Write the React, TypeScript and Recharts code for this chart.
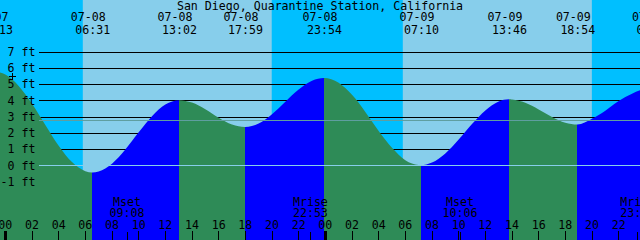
import React from 'react';
import {
  ComposedChart,
  Area,
  XAxis,
  YAxis,
  ReferenceArea,
  ReferenceLine,
  ReferenceDot,
} from 'recharts';

// ---------- data ----------
const title = 'San Diego, Quarantine Station, California';

// tide extremes (hours after 07-08 00:00)
const extremeHours = [-0.78, 6.52, 13.03, 17.98, 23.9, 31.17, 37.77, 42.9, 48.6];
const extremeHeights = [5.8, -0.4, 4.05, 2.4, 5.42, 0.05, 4.1, 2.55, 4.8];
const extremeDates = ['07-07', '07-08', '07-08', '07-08', '07-08', '07-09', '07-09', '07-09', '07-10'];
const extremeTimes = ['23:13', '06:31', '13:02', '17:59', '23:54', '07:10', '13:46', '18:54', '00:36'];

// hourly readings of the curve
const sampleHours = [
  0, 1, 2, 3, 4, 5, 6, 7, 8, 9, 10, 11, 12, 14, 15, 16, 17, 19, 20, 21, 22, 23,
  25, 26, 27, 28, 29, 30, 31, 32, 33, 34, 35, 36, 37, 38, 39, 40, 41, 42, 44, 45, 46, 47, 48,
];
const sampleHeights = [
  5.63, 4.93, 3.83, 2.53, 1.25, 0.24, -0.32, -0.34, 0.14, 1.01, 2.07, 3.06, 3.78, 3.9, 3.49, 2.97, 2.55,
  2.62, 3.19, 3.96, 4.71, 5.25, 5.12, 4.38, 3.33, 2.16, 1.12, 0.36, 0.06, 0.21, 0.77, 1.63, 2.58, 3.42,
  3.97, 4.09, 3.89, 3.48, 3.02, 2.66, 2.9, 3.4, 4.0, 4.45, 4.75,
];

const sunriseHours = [5.81, 29.81];
const sunsetHours = [19.98, 43.99];

const moonHours = [9.13, 22.88, 34.1, 47.43];
const moonEvents = ['Mset', 'Mrise', 'Mset', 'Mrise'];
const moonTimes = ['09:08', '22:53', '10:06', '23:26'];

const hourTicks = [0, 2, 4, 6, 8, 10, 12, 14, 16, 18, 20, 22, 24, 26, 28, 30, 32, 34, 36, 38, 40, 42, 44, 46];
const ftTicks = [-1, 0, 1, 2, 3, 4, 5, 6, 7];
const gridLevels = [1, 2, 3, 4, 5, 6, 7];
const meanLevel = 2.79;
const datumLevel = 0;
const nowHour = 0.54;
const nowHeight = 5.51;

const xDomain: [number, number] = [-0.4, 47.6];
const yDomain: [number, number] = [-4.554, 10.215];

// ---------- styles ----------
const W = 640;
const H = 240;
const NIGHT = '#00BFFF';
const DAY = '#87CEEB';
const RISE = '#0000FF';
const FALL = '#2E8B57';
const MEAN_COLOR = '#5F9EA0';
const DATUM_COLOR = '#87CEEB';
const FONT = '"DejaVu Sans Mono", "Liberation Mono", monospace';
const FS = 11.6;
const LINE_START = 39;

const data = [
  ...extremeHours.map((h, i) => ({ hour: h, height: extremeHeights[i] })),
  ...sampleHours.map((h, i) => ({ hour: h, height: sampleHeights[i] })),
].sort((a, b) => a.hour - b.hour);

const firstHour = data[0].hour;
const lastHour = data[data.length - 1].hour;
const stops: { offset: number; color: string }[] = [];
for (let k = 0; k < extremeHours.length - 1; k++) {
  const color = extremeHeights[k + 1] > extremeHeights[k] ? RISE : FALL;
  stops.push({ offset: (extremeHours[k] - firstHour) / (lastHour - firstHour), color });
  stops.push({ offset: (extremeHours[k + 1] - firstHour) / (lastHour - firstHour), color });
}

const pad2 = (n: number) => String(n).padStart(2, '0');

const HourTick = (props: any) => {
  const { x, payload } = props;
  const hr = payload.value as number;
  const midnight = hr % 24 === 0;
  return (
    <g>
      <text x={x} y={229} textAnchor="middle" fontFamily={FONT} fontSize={FS} fill="#000">
        {pad2(hr % 24)}
      </text>
      <line x1={x} x2={x} y1={231} y2={240} stroke="#000" strokeWidth={midnight ? 3 : 1} shapeRendering="crispEdges" />
    </g>
  );
};

const TideTick = (props: any) => {
  const { x, payload } = props;
  const i = extremeHours.indexOf(payload.value);
  if (i < 0) return <g />;
  return (
    <g>
      <text x={x - 4} y={20.7} textAnchor="middle" fontFamily={FONT} fontSize={FS} fill="#000">
        {extremeDates[i]}
      </text>
      <text x={x + 0.5} y={34} textAnchor="middle" fontFamily={FONT} fontSize={FS} fill="#000">
        {extremeTimes[i]}
      </text>
    </g>
  );
};

const MoonTick = (props: any) => {
  const { x, payload } = props;
  const i = moonHours.indexOf(payload.value);
  if (i < 0) return <g />;
  return (
    <g>
      <text x={x} y={206} textAnchor="middle" fontFamily={FONT} fontSize={FS} fill="#000">
        {moonEvents[i]}
      </text>
      <text x={x} y={217} textAnchor="middle" fontFamily={FONT} fontSize={FS} fill="#000">
        {moonTimes[i]}
      </text>
      <line x1={x} x2={x} y1={232} y2={240} stroke="#000" strokeWidth={1} shapeRendering="crispEdges" />
    </g>
  );
};

const FtTick = (props: any) => {
  const { y, payload } = props;
  return (
    <text x={35.5} y={y + 3.6} textAnchor="end" fontFamily={FONT} fontSize={FS} fill="#000">
      {`${payload.value} ft`}
    </text>
  );
};

const makeLine = (color: string) => (p: any) => (
  <line
    x1={LINE_START}
    y1={p.y1}
    x2={p.x2}
    y2={p.y2}
    stroke={color}
    strokeWidth={1}
    shapeRendering="crispEdges"
  />
);
const BlackLine = makeLine('#000');
const MeanLine = makeLine(MEAN_COLOR);
const DatumLine = makeLine(DATUM_COLOR);

const PlusMark = (p: any) => (
  <g>
    <line x1={p.cx - 3.5} x2={p.cx + 3.5} y1={p.cy} y2={p.cy} stroke="#000" strokeWidth={1} shapeRendering="crispEdges" />
    <line x1={p.cx} x2={p.cx} y1={p.cy - 3.5} y2={p.cy + 3.5} stroke="#000" strokeWidth={1} shapeRendering="crispEdges" />
  </g>
);

export default function App() {
  return (
    <div style={{ position: 'fixed', left: 0, top: 0, width: W, height: H, background: NIGHT }}>
      <ComposedChart width={W} height={H} data={data} margin={{ top: 0, right: 0, bottom: 0, left: 0 }}>
        <defs>
          <linearGradient id="tideFill" x1="0" y1="0" x2="1" y2="0">
            {stops.map((s, i) => (
              <stop key={i} offset={s.offset} stopColor={s.color} stopOpacity={1} />
            ))}
          </linearGradient>
        </defs>

        {sunriseHours.map((sr, i) => (
          <ReferenceArea
            key={`day${i}`}
            xAxisId="main"
            yAxisId="ft"
            x1={sr}
            x2={sunsetHours[i]}
            fill={DAY}
            fillOpacity={1}
            stroke="none"
            zIndex={-300}
          />
        ))}

        {gridLevels.map((v) => (
          <ReferenceLine key={`g${v}`} xAxisId="main" yAxisId="ft" y={v} stroke="#000" shape={BlackLine} zIndex={-200} />
        ))}

        <Area
          xAxisId="main"
          yAxisId="ft"
          type="monotone"
          dataKey="height"
          stroke="none"
          fill="url(#tideFill)"
          fillOpacity={1}
          baseValue="dataMin"
          dot={false}
          activeDot={false}
          isAnimationActive={false}
          zIndex={100}
        />

        <ReferenceLine xAxisId="main" yAxisId="ft" y={meanLevel} stroke={MEAN_COLOR} shape={MeanLine} zIndex={300} />
        <ReferenceLine xAxisId="main" yAxisId="ft" y={datumLevel} stroke={DATUM_COLOR} shape={DatumLine} zIndex={300} />

        <ReferenceDot xAxisId="main" yAxisId="ft" x={nowHour} y={nowHeight} shape={PlusMark} zIndex={400} />

        <XAxis
          xAxisId="main"
          dataKey="hour"
          type="number"
          domain={xDomain}
          allowDataOverflow
          ticks={hourTicks}
          interval={0}
          orientation="bottom"
          mirror
          axisLine={false}
          tickLine={false}
          tick={<HourTick />}
        />
        <XAxis
          xAxisId="top"
          dataKey="hour"
          type="number"
          domain={xDomain}
          allowDataOverflow
          ticks={extremeHours}
          interval={0}
          orientation="top"
          mirror
          axisLine={false}
          tickLine={false}
          tick={<TideTick />}
        />
        <XAxis
          xAxisId="moon"
          dataKey="hour"
          type="number"
          domain={xDomain}
          allowDataOverflow
          ticks={moonHours}
          interval={0}
          orientation="bottom"
          mirror
          axisLine={false}
          tickLine={false}
          tick={<MoonTick />}
        />
        <YAxis
          yAxisId="ft"
          type="number"
          domain={yDomain}
          allowDataOverflow
          ticks={ftTicks}
          interval={0}
          orientation="left"
          mirror
          axisLine={false}
          tickLine={false}
          tick={<FtTick />}
        />

        <text x={W / 2} y={10} textAnchor="middle" fontFamily={FONT} fontSize={FS} fill="#000">
          {title}
        </text>
      </ComposedChart>
    </div>
  );
}
